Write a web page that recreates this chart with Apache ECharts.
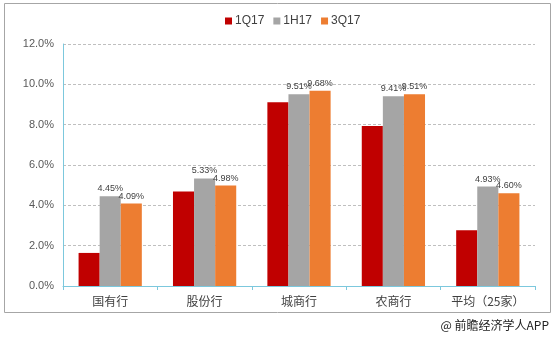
<!DOCTYPE html>
<html>
<head>
<meta charset="utf-8">
<script src="https://cdn.jsdelivr.net/npm/echarts@6/dist/echarts.min.js"></script>
<style>
html,body{margin:0;padding:0;background:#fff;}
#chart{width:555px;height:340px;}
</style>
</head>
<body>
<div id="chart"></div>
<script>
// Bank categories and quarterly ratio values (%)
const categories = ['国有行', '股份行', '城商行', '农商行', '平均（25家）'];
const seriesNames = ['1Q17', '1H17', '3Q17'];
const values1Q17 = [1.64, 4.68, 9.11, 7.93, 2.76];
const values1H17 = [4.45, 5.33, 9.51, 9.41, 4.93];
const values3Q17 = [4.09, 4.98, 9.68, 9.51, 4.60];
const yTicks = [0, 2, 4, 6, 8, 10, 12];

const colors = ['#C00000', '#A5A5A5', '#ED7D31'];
const font = 'Liberation Sans, Arial, sans-serif';

const chart = echarts.init(document.getElementById('chart'), null, {renderer: 'canvas'});

function barSeries(name, data, color, showLabel) {
  return {
    name: name,
    type: 'bar',
    data: data,
    barGap: '0%',
    barCategoryGap: '33%',
    itemStyle: {color: color},
    label: {
      show: showLabel,
      position: 'top',
      distance: 3,
      color: '#404040',
      fontSize: 9,
      fontFamily: font,
      formatter: p => p.value.toFixed(2) + '%'
    }
  };
}

chart.setOption({
  animation: false,
  textStyle: {fontFamily: font},
  legend: {
    top: 10,
    left: 220,
    itemWidth: 7,
    itemHeight: 7,
    itemGap: 9,
    icon: 'rect',
    textStyle: {color: '#404040', fontSize: 12, fontFamily: font, padding: [0, 0, 0, -2]},
    data: seriesNames
  },
  grid: {left: 63, right: 20, top: 44, bottom: 54},
  xAxis: {
    type: 'category',
    data: categories,
    axisLine: {lineStyle: {color: '#7CC8DD', width: 1}},
    axisTick: {show: true, length: 4, lineStyle: {color: '#7CC8DD'}},
    axisLabel: {interval: 0, color: '#404040', fontSize: 12, margin: 9, fontFamily: 'Noto Sans CJK SC, sans-serif'}
  },
  yAxis: {
    type: 'value',
    min: yTicks[0],
    max: yTicks[yTicks.length - 1],
    interval: 2,
    axisLine: {show: true, lineStyle: {color: '#7CC8DD', width: 1}},
    axisTick: {show: false},
    axisLabel: {color: '#595959', fontSize: 11, margin: 9, formatter: v => v.toFixed(1) + '%'},
    splitLine: {lineStyle: {color: '#BFBFBF', type: [3, 2]}}
  },
  series: [
    barSeries(seriesNames[0], values1Q17, colors[0], false),
    barSeries(seriesNames[1], values1H17, colors[1], true),
    barSeries(seriesNames[2], values3Q17, colors[2], true)
  ],
  graphic: [
    {
      type: 'rect',
      shape: {x: 4.5, y: 3.5, width: 546, height: 309},
      style: {fill: 'none', stroke: '#A6A6A6', lineWidth: 1},
      silent: true, z: -1
    },
    {
      type: 'text',
      right: 6,
      top: 319,
      style: {text: '@ 前瞻经济学人APP', fill: '#222', font: '12px "Noto Sans CJK SC", sans-serif'}
    }
  ]
});
</script>
</body>
</html>
